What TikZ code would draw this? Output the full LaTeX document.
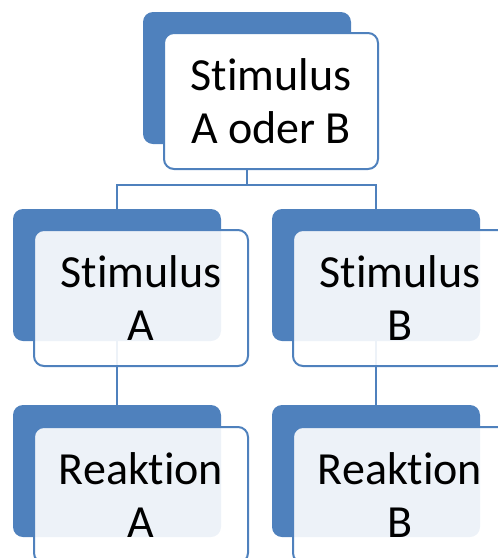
\documentclass[tikz,border=0pt]{standalone}
\usepackage{fontspec}
\setmainfont{Carlito}[Ligatures=NoCommon]
\usepackage{xcolor}
\definecolor{officeblue}{HTML}{4F81BD}

\begin{document}
\begin{tikzpicture}[x=1pt,y=-1pt]
    % Define box shapes
    \tikzstyle{backbox}=[fill=officeblue, rectangle, rounded corners=10pt, minimum width=208pt, minimum height=132pt, inner sep=0pt]
    \tikzstyle{frontbox}=[draw=officeblue, line width=2pt, fill=white, fill opacity=0.9, text opacity=1, rectangle, rounded corners=10pt, minimum width=214pt, minimum height=136pt, inner sep=0pt, align=center, font=\fontsize{46}{53}\selectfont]
    \tikzstyle{link}=[draw=officeblue, line width=2.2pt]

    \clip (0,0) rectangle (498,558);

    % Place top box (back)
    \node[backbox] (top_back) at (247,78) {};

    % Place middle and bottom boxes (back)
    \node[backbox] (stimA_back) at (117,275) {};
    \node[backbox] (stimB_back) at (376,275) {};
    \node[backbox] (reakA_back) at (117,471) {};
    \node[backbox] (reakB_back) at (376,471) {};

    % Connect boxes
    \coordinate (split) at (247,185);
    \draw[link] (top_back.south) -- (split);
    \draw[link] (split) -| (stimA_back.north);
    \draw[link] (split) -| (stimB_back.north);
    \draw[link] (stimA_back.south) -- (reakA_back.north);
    \draw[link] (stimB_back.south) -- (reakB_back.north);

    % Place front boxes
    \node[frontbox, fill opacity=1] (top_front) at (271,101) {Stimulus\\A oder B};
    \node[frontbox] (stimA_front) at (141,298) {Stimulus\\A};
    \node[frontbox] (stimB_front) at (400,298) {Stimulus\\B};
    \node[frontbox] (reakA_front) at (141,495) {Reaktion\\A};
    \node[frontbox] (reakB_front) at (400,495) {Reaktion\\B};
\end{tikzpicture}
\end{document}
